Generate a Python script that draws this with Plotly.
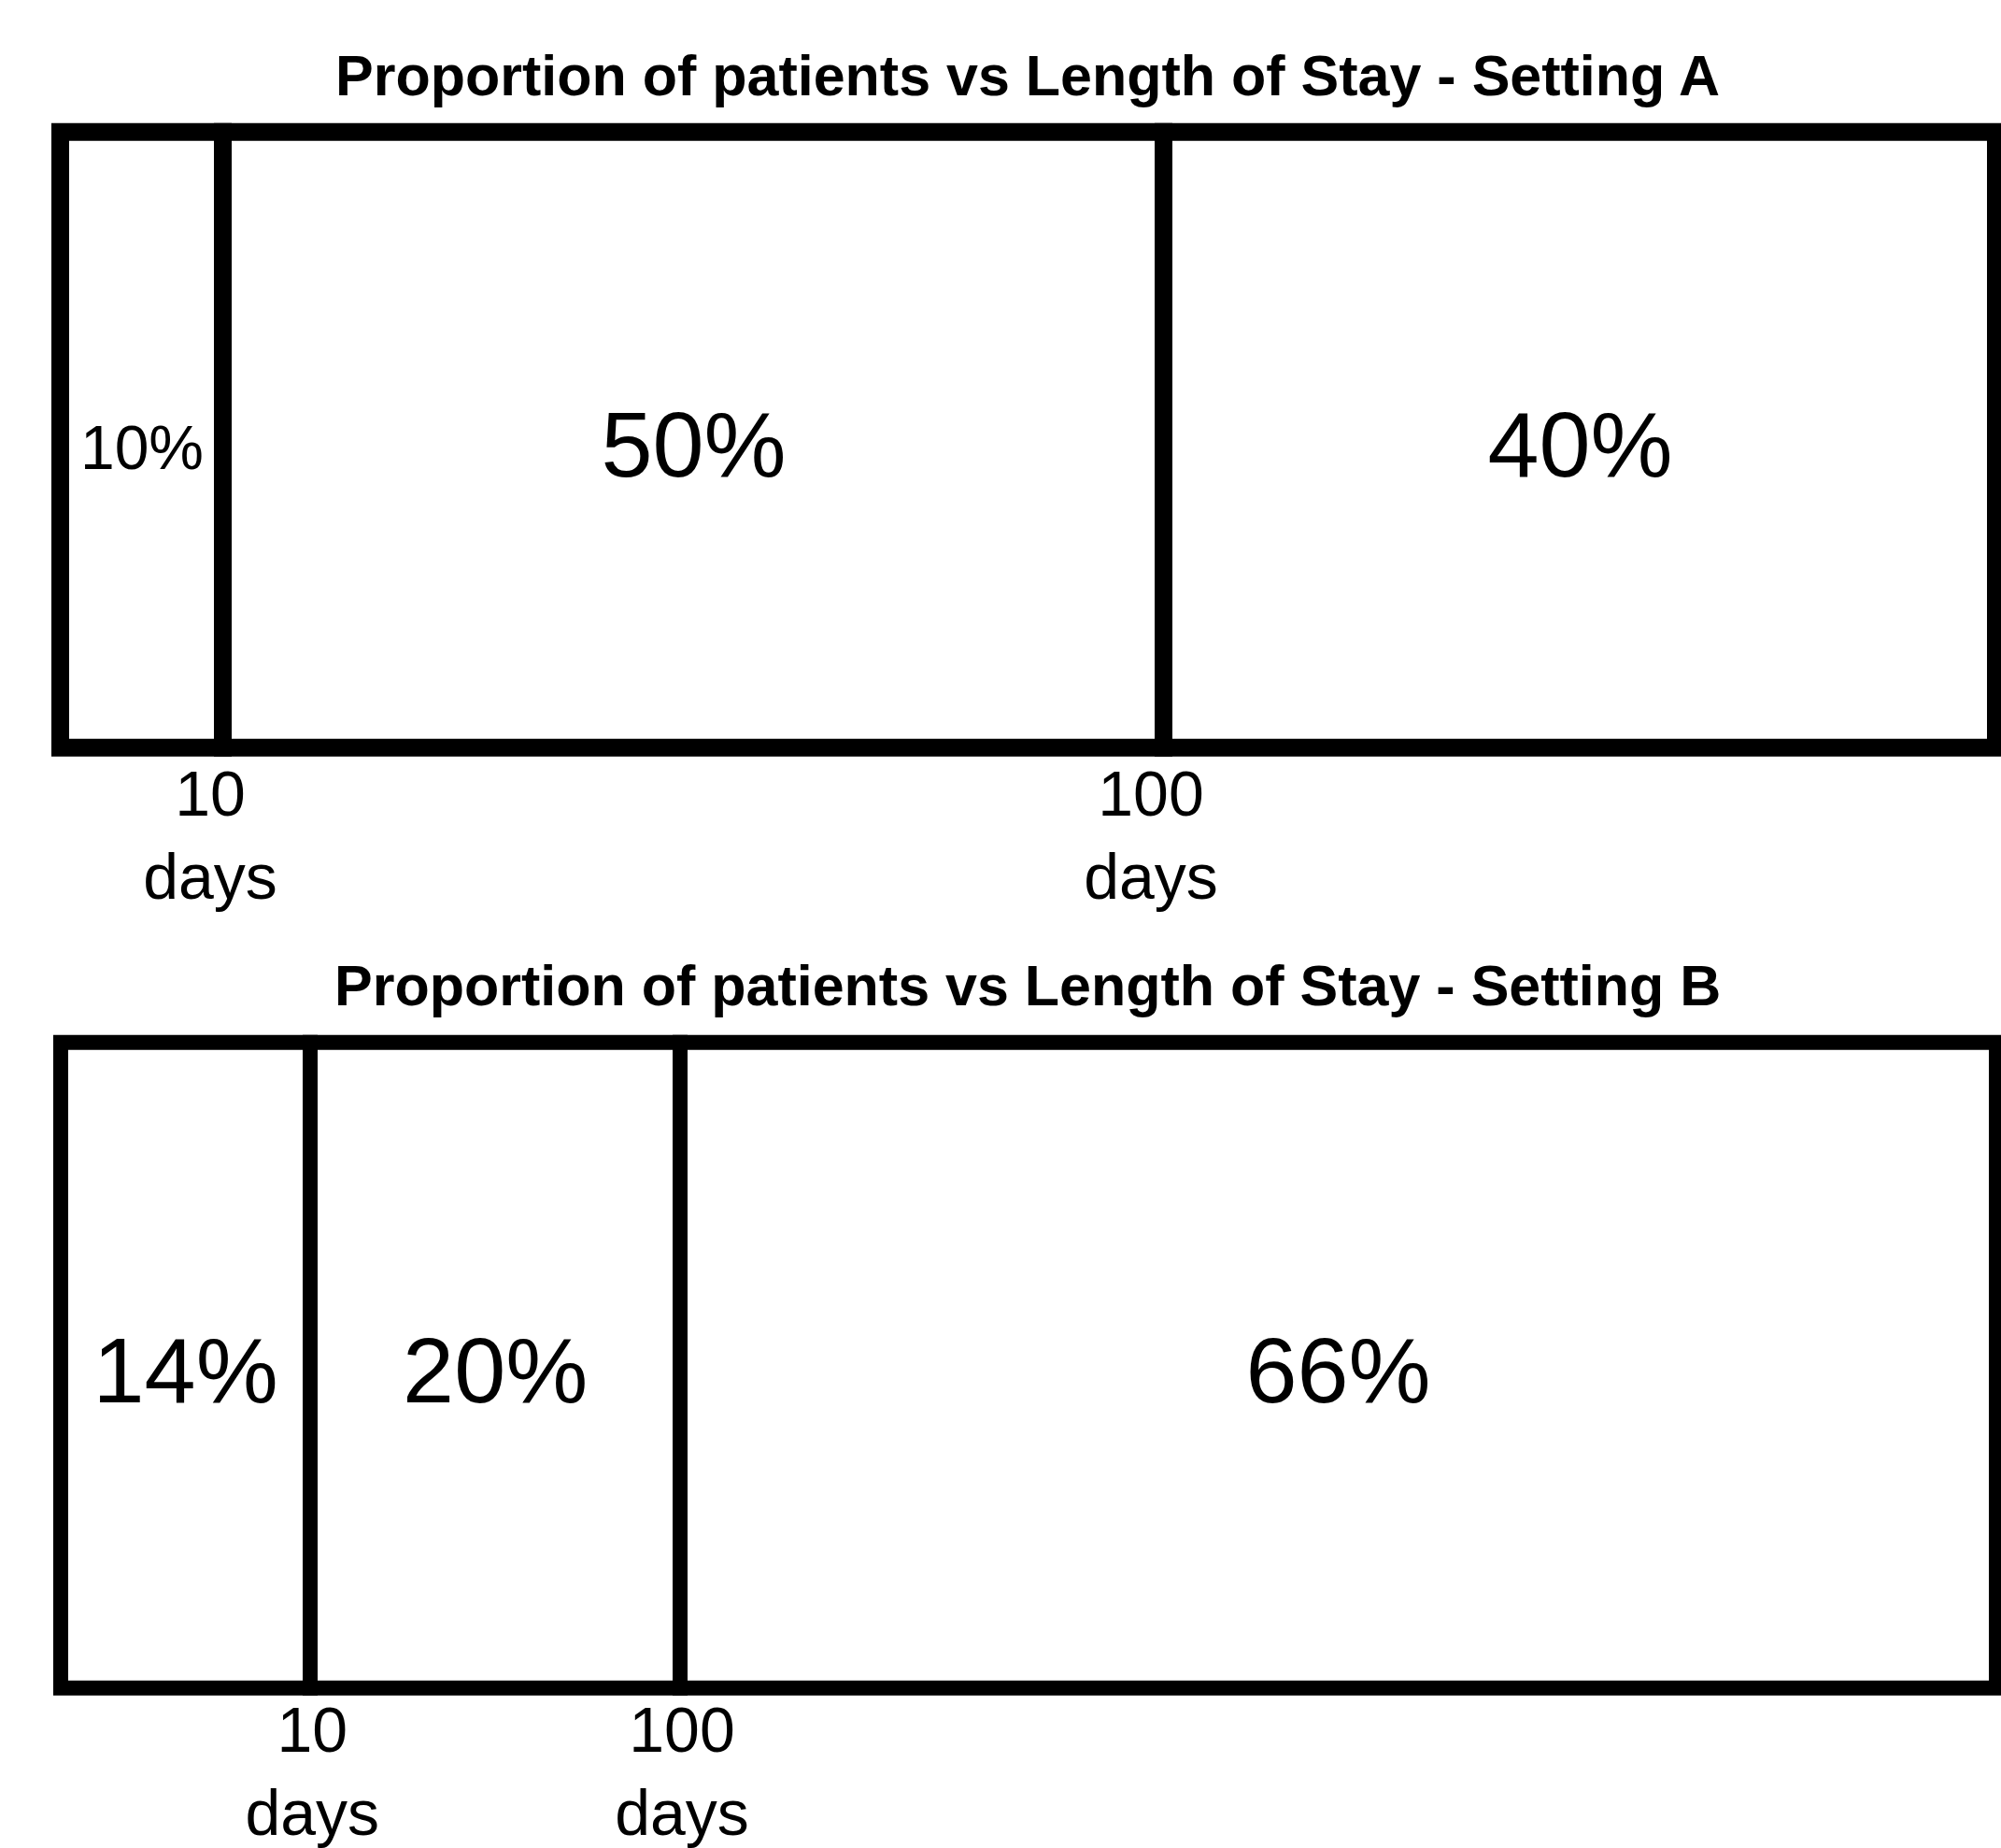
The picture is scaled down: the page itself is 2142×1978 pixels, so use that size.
import plotly.graph_objects as go

# ---- data ----
title_a = "Proportion of patients vs Length of Stay - Setting A"
title_b = "Proportion of patients vs Length of Stay - Setting B"

share_a = [10, 50, 40]            # % labels, Setting A
width_a = [8.4, 48.6, 43.0]       # drawn width of each block (% of box width)
share_b = [14, 20, 66]            # % labels, Setting B
width_b = [12.9, 19.1, 68.0]

tick_text = ["10<br>days", "100<br>days"]

W, H = 2142, 1978
FONT = "Liberation Sans, Arial, Helvetica, sans-serif"


def centers(widths):
    out, acc = [], 0.0
    for w in widths:
        out.append(acc + w / 2)
        acc += w
    return out


def bounds(widths):
    out, acc = [], 0.0
    for w in widths[:-1]:
        acc += w
        out.append(acc)
    return out


fig = go.Figure()

for widths, shares, xa, ya, sizes, lw in [
    (width_a, share_a, "x", "y", [66, 99, 99], 19),
    (width_b, share_b, "x2", "y2", [99, 99, 99], 16),
]:
    fig.add_trace(go.Bar(
        x=centers(widths), y=[1] * len(widths), width=widths, base=0,
        marker=dict(color="white", line=dict(color="black", width=lw)),
        xaxis=xa, yaxis=ya, cliponaxis=False, showlegend=False, hoverinfo="skip",
    ))
    fig.add_trace(go.Scatter(
        x=centers(widths), y=[0.478] * len(widths), mode="text",
        text=[f"{s}%" for s in shares],
        textfont=dict(family=FONT, size=sizes, color="black"),
        xaxis=xa, yaxis=ya, cliponaxis=False, showlegend=False, hoverinfo="skip",
    ))

# pixel geometry of the boxes (line centres)
X0, X100 = 65, 2137
A_TOP, A_BOT = 142, 802
B_TOP, B_BOT = 1118, 1810
PAD = 0.1

ppu = (X100 - X0) / 100.0
xr = [-X0 / ppu, (W - X0) / ppu]


def ydomain(top, bot):
    span = bot - top
    t = top - PAD * span
    b = bot + PAD * span
    return [(H - b) / H, (H - t) / H]


axis_common = dict(range=xr, showgrid=False, zeroline=False, showline=False,
                   ticks="", domain=[0, 1], anchor="free",
                   tickfont=dict(family=FONT, size=68, color="black"))

fig.update_layout(
    width=W, height=H, autosize=False,
    margin=dict(l=0, r=0, t=0, b=0),
    paper_bgcolor="white", plot_bgcolor="white",
    bargap=0,
    xaxis=dict(**axis_common, position=(H - A_BOT) / H, ticklabelstandoff=4, ticklabelshift=-14,
               tickvals=bounds(width_a), ticktext=tick_text),
    yaxis=dict(range=[-PAD, 1 + PAD], domain=ydomain(A_TOP, A_BOT), visible=False, anchor="x"),
    xaxis2=dict(**axis_common, position=(H - B_BOT) / H, ticklabelstandoff=0, ticklabelshift=2,
                tickvals=bounds(width_b), ticktext=tick_text),
    yaxis2=dict(range=[-PAD, 1 + PAD], domain=ydomain(B_TOP, B_BOT), visible=False, anchor="x2"),
)

title_font = dict(family=FONT, size=61, color="black")
fig.add_annotation(text=f"<b>{title_a}</b>", x=1100 / W, y=(H - 81) / H, xref="paper", yref="paper",
                   xanchor="center", yanchor="middle", showarrow=False, font=title_font)
fig.add_annotation(text=f"<b>{title_b}</b>", x=1100 / W, y=(H - 1057) / H, xref="paper", yref="paper",
                   xanchor="center", yanchor="middle", showarrow=False, font=title_font)

fig.write_html(
    "out.html",
    config={"displayModeBar": False},
    post_script="document.body.style.margin='0';document.body.style.overflow='hidden';",
)
